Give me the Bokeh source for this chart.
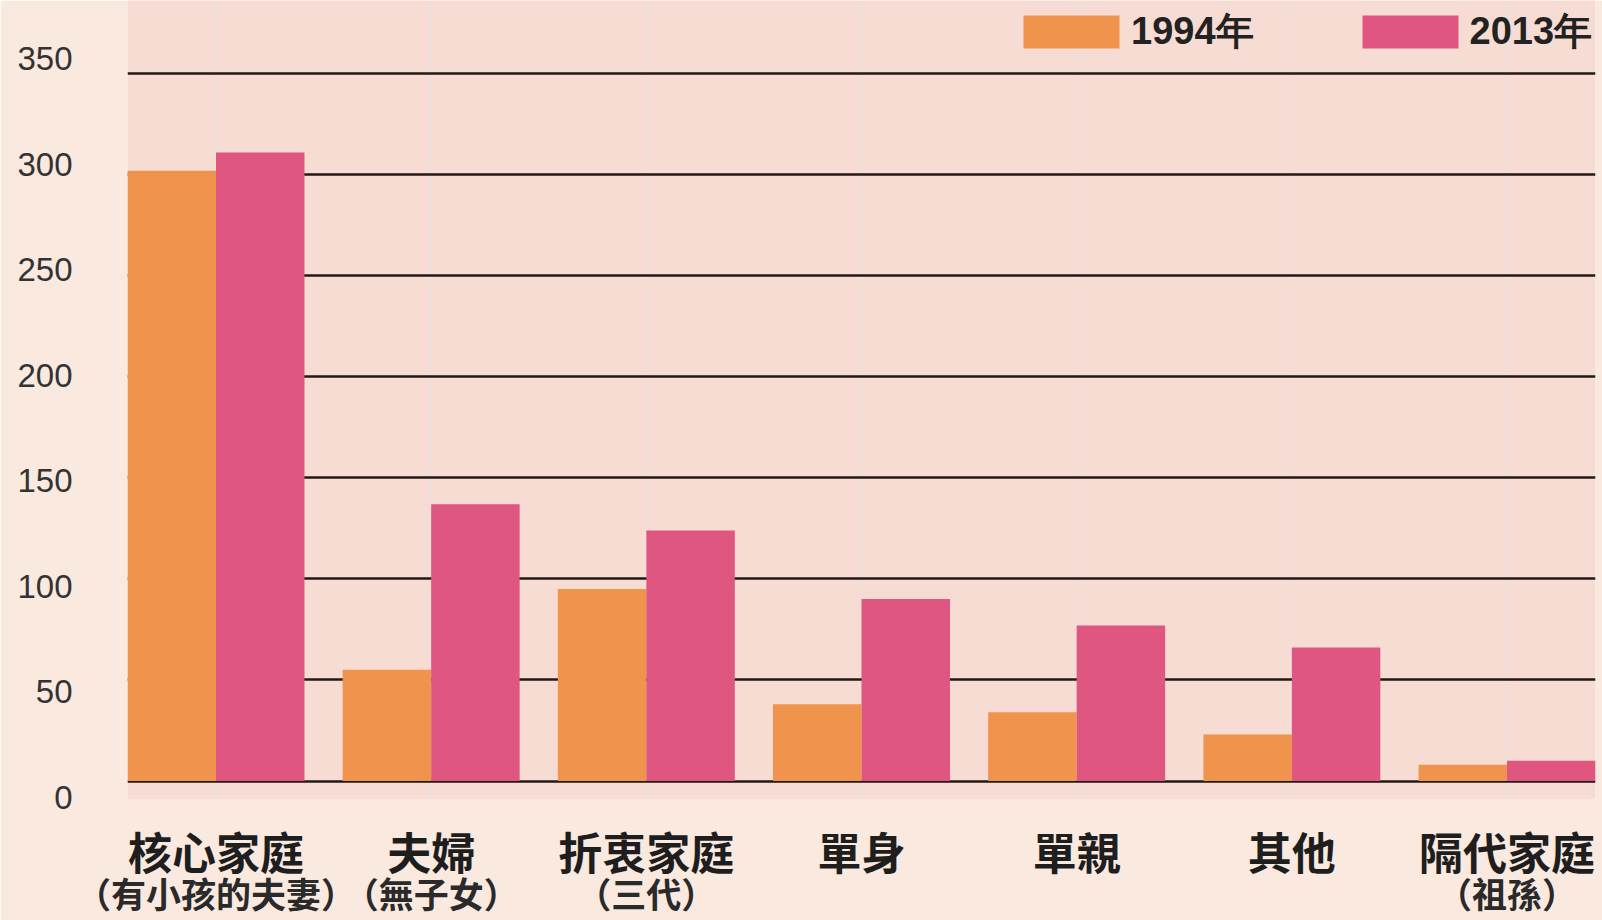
from bokeh.plotting import figure
from bokeh.models import (Range1d, LinearAxis, FixedTicker, Legend, LegendItem,
                          ColumnDataSource, Grid)
from bokeh.transform import dodge
from bokeh.embed import file_html
from bokeh.resources import INLINE

# ---- data ----
categories = ["核心家庭", "夫婦", "折衷家庭", "單身", "單親", "其他", "隔代家庭"]
sublabels = ["（有小孩的夫妻）", "（無子女）", "（三代）", "", "", "", "（祖孫）"]
series_names = ["1994年", "2013年"]
values_1994 = [302, 55, 95, 38, 34, 23, 8]
values_2013 = [311, 137, 124, 90, 77, 66, 10]
y_ticks = [0, 50, 100, 150, 200, 250, 300, 350]

# ---- layout / style constants ----
W, H = 1602, 920
GROUP = 0.8225
ORANGE = "#f0934c"
PINK = "#df5680"
CJK = "Noto Sans CJK TC"

idx = list(range(len(categories)))
src = ColumnDataSource(dict(x=idx, v94=values_1994, v13=values_2013))

p = figure(width=W, height=H, output_backend="svg", toolbar_location=None,
           x_range=Range1d(-GROUP / 2, len(categories) - 1 + GROUP / 2),
           y_range=Range1d(-9.15, 386.2),
           x_axis_location=None, y_axis_location=None,
           min_border_left=127, min_border_right=7,
           min_border_top=0, min_border_bottom=121)
p.outline_line_color = None
p.background_fill_color = "#f7dcd3"
p.border_fill_color = "#f9e9df"

# horizontal grid lines
grid = Grid(dimension=1, ticker=FixedTicker(ticks=y_ticks),
            grid_line_color="#231815", grid_line_width=2.3)
p.add_layout(grid)

# y tick labels (placed slightly apart from grid lines, as in the original)
p.extra_y_ranges = {"lbl": Range1d(-1.09, 377.6)}
ax = LinearAxis(y_range_name="lbl", ticker=FixedTicker(ticks=y_ticks))
ax.axis_line_color = None
ax.major_tick_line_color = None
ax.minor_tick_line_color = None
ax.major_tick_out = 0
ax.major_tick_in = 0
ax.major_label_standoff = 55
ax.major_label_text_font = "Liberation Sans"
ax.major_label_text_font_size = "33px"
ax.major_label_text_color = "#333333"
p.add_layout(ax, "left")

# category axes (two lines of labels)
def cat_axis(labels, size, style, standoff, color):
    ticks = [i for i, t in zip(idx, labels) if t]
    a = LinearAxis(ticker=FixedTicker(ticks=ticks),
                   major_label_overrides={i: labels[i] for i in ticks})
    a.axis_line_color = None
    a.major_tick_line_color = None
    a.minor_tick_line_color = None
    a.major_tick_out = 0
    a.major_tick_in = 0
    a.major_label_standoff = standoff
    a.major_label_text_font = CJK
    a.major_label_text_font_size = size
    a.major_label_text_font_style = style
    a.major_label_text_color = color
    return a

p.add_layout(cat_axis(categories, "44px", "bold", 19, "#1e1e1e"), "below")
p.add_layout(cat_axis(sublabels, "35px", "bold", -19, "#2a2a2a"), "below")

# bars
r1 = p.vbar(x=dodge("x", -GROUP / 4, range=p.x_range), top="v94", bottom=0,
            width=GROUP / 2, source=src, fill_color=ORANGE, line_color=None)
r2 = p.vbar(x=dodge("x", GROUP / 4, range=p.x_range), top="v13", bottom=0,
            width=GROUP / 2, source=src, fill_color=PINK, line_color=None)

legend = Legend(items=[LegendItem(label=series_names[0], renderers=[r1]),
                       LegendItem(label=series_names[1], renderers=[r2])],
                orientation="horizontal", location=(884, 742),
                glyph_width=120, glyph_height=41, label_standoff=0,
                spacing=96, padding=0, margin=0,
                background_fill_alpha=0, border_line_color=None,
                label_text_font="Liberation Sans", label_text_font_size="38px",
                label_text_font_style="bold", label_text_color="#222222")
p.add_layout(legend)

open("out.html", "w").write(file_html(p, INLINE))
